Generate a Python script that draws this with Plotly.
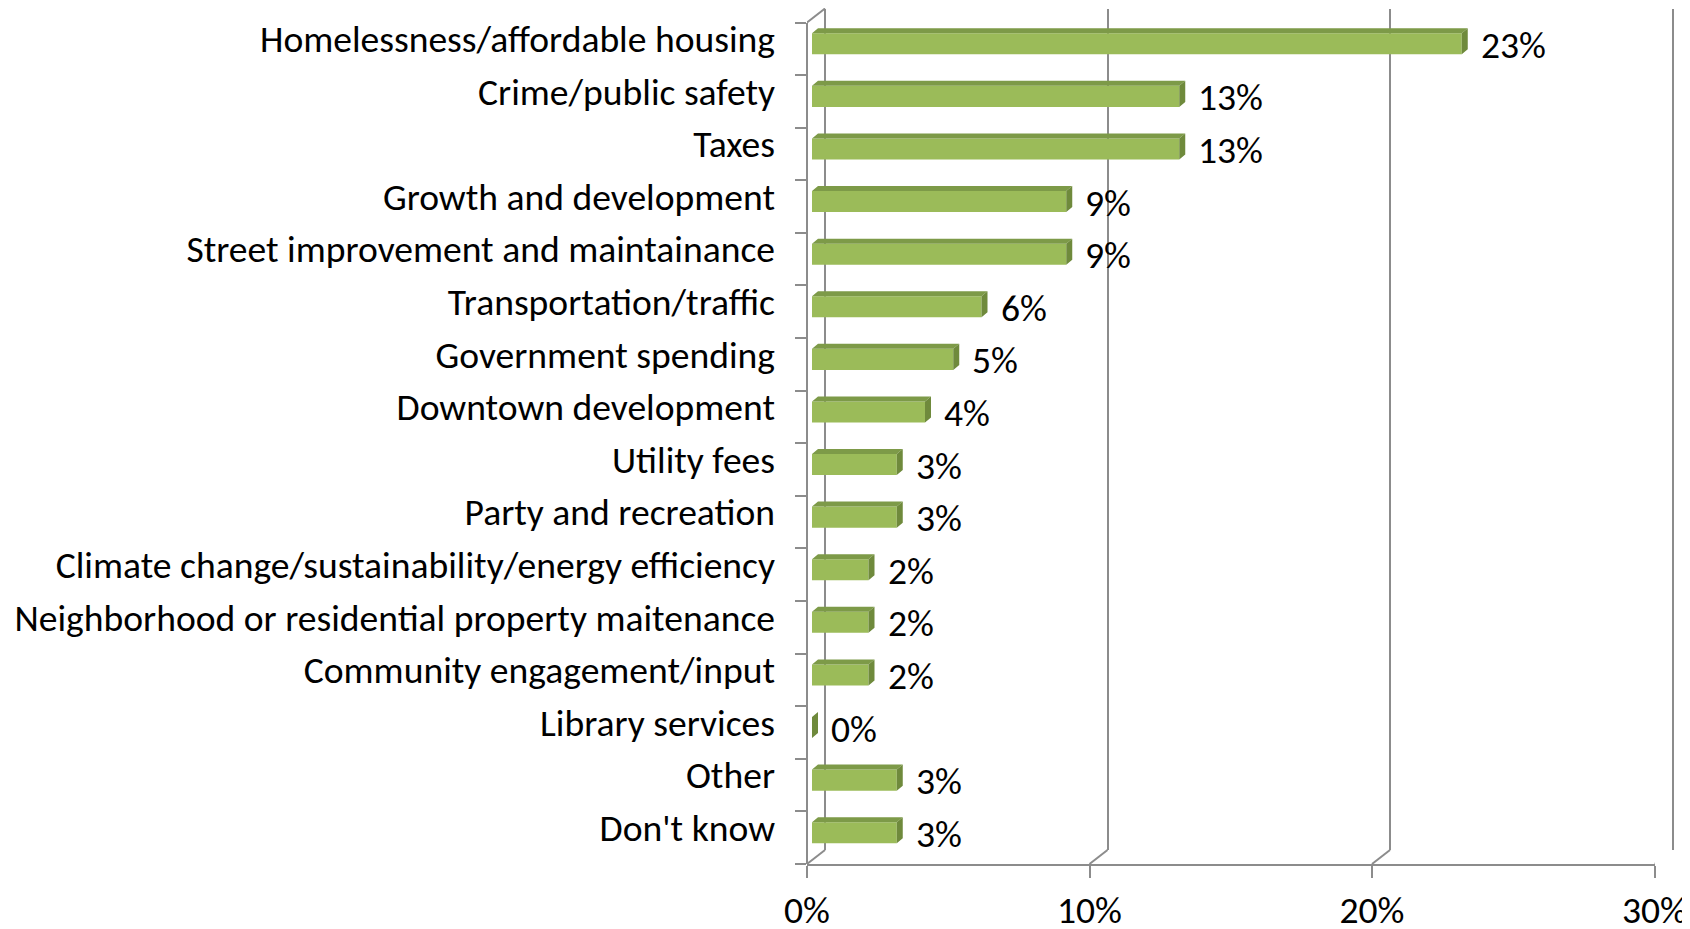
import plotly.graph_objects as go

# data, top to bottom
categories = ["Homelessness/affordable housing", "Crime/public safety", "Taxes",
              "Growth and development", "Street improvement and maintainance",
              "Transportation/traffic", "Government spending", "Downtown development",
              "Utility fees", "Party and recreation",
              "Climate change/sustainability/energy efficiency",
              "Neighborhood or residential property maitenance",
              "Community engagement/input", "Library services", "Other", "Don't know"]
values = [23, 13, 13, 9, 9, 6, 5, 4, 3, 3, 2, 2, 2, 0, 3, 3]
x_ticks = [0, 10, 20, 30]
x_ticktext = ["0%", "10%", "20%", "30%"]

# page geometry (page pixels) used to fake the excel 3d frame
PAGE_W, PAGE_H = 1690, 929
OFF = 8               # default body margin of the html page
W, H = PAGE_W - OFF, PAGE_H - OFF
FRONT_LEFT = 807      # front 0%
BAR_LEFT = 812        # bar face 0%
BACK_LEFT = 825       # back wall 0%
PX10 = 282.5          # pixels per 10%
FLOOR_Y = 864
TOP_Y = 22.5
DEPTH_X, DEPTH_Y = 18, 14
BAR_LIFT = 5          # bars sit a little above the tick centres
BAR_DX, BAR_DY = 6, 5

FONT = "Carlito, Calibri, Lato, sans-serif"
FS = 37.6
GRAY = "#8c8c8c"
FRONT = "#9bbb59"
TOPC = "#7d9a48"
SIDE = "#6f8a3c"


def px(x):
    return (x - OFF) / W


def py(y):
    return 1 - (y - OFF) / H


ppu = PX10 / 10


def xdom(origin, r0, r1):
    return [px(origin + r0 * ppu), px(origin + r1 * ppu)]


n = len(categories)
idx = list(range(n))
bar_w = 0.40
dx = BAR_DX / ppu
dy = BAR_DY / ((FLOOR_Y - TOP_Y) / n)

fig = go.Figure()

# keep the back wall and tick axes alive (no visible marks)
fig.add_trace(go.Scatter(x=x_ticks, y=[None] * len(x_ticks), mode="lines",
                         xaxis="x", yaxis="y", hoverinfo="skip"))
fig.add_trace(go.Scatter(x=x_ticks, y=[None] * len(x_ticks), mode="lines",
                         xaxis="x2", yaxis="y3", hoverinfo="skip"))

fig.add_trace(go.Bar(x=values, y=idx, orientation="h", width=bar_w,
                     marker=dict(color=FRONT, line=dict(width=0)),
                     xaxis="x3", yaxis="y2", hoverinfo="skip"))

# top and side faces of each bar
tx, ty, sx, sy = [], [], [], []
for i, v in zip(idx, values):
    yt, yb = i - bar_w / 2, i + bar_w / 2
    tx += [0, v, v + dx, dx, 0, None]
    ty += [yt, yt, yt - dy, yt - dy, yt, None]
    sx += [v, v, v + dx, v + dx, v, None]
    sy += [yt, yb, yb - dy, yt - dy, yt, None]
fig.add_trace(go.Scatter(x=tx, y=ty, mode="lines", fill="toself", fillcolor=TOPC,
                         line=dict(width=0, color=TOPC), xaxis="x3", yaxis="y2",
                         hoverinfo="skip"))
fig.add_trace(go.Scatter(x=sx, y=sy, mode="lines", fill="toself", fillcolor=SIDE,
                         line=dict(width=0, color=SIDE), xaxis="x3", yaxis="y2",
                         hoverinfo="skip"))

for i, v in zip(idx, values):
    fig.add_annotation(x=v, y=i, xref="x3", yref="y2", text=f"{v:.0f}%",
                       showarrow=False, xanchor="left", xshift=17, yshift=-1,
                       font=dict(family=FONT, size=FS, color="black"))

# slanted floor lines at each tick and the top left corner
for v in x_ticks:
    fig.add_shape(type="line", xref="x2", yref="paper", xsizemode="pixel",
                  ysizemode="pixel", xanchor=v, yanchor=py(FLOOR_Y),
                  x0=0, x1=DEPTH_X, y0=0, y1=DEPTH_Y,
                  line=dict(color=GRAY, width=2))
fig.add_shape(type="line", xref="x2", yref="paper", xsizemode="pixel",
              ysizemode="pixel", xanchor=0, yanchor=py(TOP_Y),
              x0=0, x1=DEPTH_X, y0=0, y1=DEPTH_Y,
              line=dict(color=GRAY, width=2))

yr = [n - 0.5, -0.5]
fig.update_layout(
    template="none",
    width=W, height=H,
    margin=dict(l=0, r=0, t=0, b=0, autoexpand=False),
    paper_bgcolor="white", plot_bgcolor="rgba(0,0,0,0)",
    showlegend=False,
    # back wall gridlines
    xaxis=dict(domain=xdom(BACK_LEFT, -0.1, 30.1), range=[-0.1, 30.1],
               anchor="y", tickvals=x_ticks, showticklabels=False, ticks="",
               showgrid=True, gridcolor=GRAY, gridwidth=2, zeroline=False,
               showline=False, automargin=False, fixedrange=True),
    yaxis=dict(domain=[py(FLOOR_Y - DEPTH_Y), py(TOP_Y - DEPTH_Y)], range=[0, 1],
               anchor="x", showgrid=False, zeroline=False, showline=False,
               showticklabels=False, ticks="", automargin=False, fixedrange=True),
    # front floor with tick labels
    xaxis2=dict(domain=xdom(FRONT_LEFT, 0, 30), range=[0, 30],
                anchor="y3", tickvals=x_ticks, ticktext=x_ticktext,
                ticks="outside", ticklen=12, tickwidth=2, tickcolor=GRAY,
                showline=True, linecolor=GRAY, linewidth=2, showgrid=False,
                zeroline=False, ticklabelstandoff=0, automargin=False,
                tickfont=dict(family=FONT, size=FS, color="black"), fixedrange=True),
    # category labels and bars
    yaxis2=dict(domain=[py(FLOOR_Y - BAR_LIFT), py(TOP_Y - BAR_LIFT)], range=yr,
                anchor="free", position=px(FRONT_LEFT), tickvals=idx,
                ticktext=categories, ticks="", showline=False, showgrid=False,
                zeroline=False, ticklabelstandoff=32, ticklabelshift=5,
                automargin=False,
                tickfont=dict(family=FONT, size=FS, color="black"), fixedrange=True),
    # boundary ticks and left wall
    yaxis3=dict(domain=[py(FLOOR_Y), py(TOP_Y)], range=yr, anchor="free",
                position=px(FRONT_LEFT),
                tickvals=[i - 0.5 for i in range(n + 1)], showticklabels=False,
                ticks="outside", ticklen=11, tickwidth=2, tickcolor=GRAY,
                showline=True, linecolor=GRAY, linewidth=2, showgrid=False,
                zeroline=False, automargin=False, fixedrange=True),
    # bar scale
    xaxis3=dict(domain=xdom(BAR_LEFT, 0, 30), range=[0, 30],
                anchor="y2", visible=False, automargin=False, fixedrange=True),
)

fig.write_html("out.html", config={"displayModeBar": False})
